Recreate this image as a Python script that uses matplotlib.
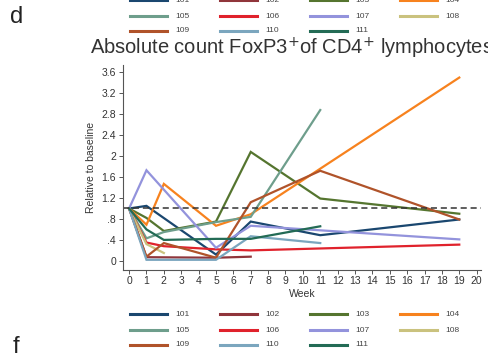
import matplotlib
matplotlib.use("Agg")
import matplotlib.pyplot as plt
from matplotlib.lines import Line2D

plt.rcParams['font.family'] = ['Liberation Sans', 'DejaVu Sans']

# patient series: weeks and value relative to baseline
patients = ['101', '102', '103', '104', '105', '106', '107', '108', '109', '110', '111']
colors = ['#1a476f', '#90353b', '#55752f', '#f7821e', '#6e9e8c', '#e0222c',
          '#9393dc', '#cac27e', '#b0532a', '#7ba6be', '#236b55']

weeks_101 = [0, 1, 5, 7, 11, 19]
vals_101 = [1.0, 1.05, 0.12, 0.75, 0.49, 0.79]
weeks_102 = [0, 1, 5, 7]
vals_102 = [1.0, 0.07, 0.06, 0.08]
weeks_103 = [0, 1, 2, 5, 7, 11, 19]
vals_103 = [1.0, 0.82, 0.57, 0.75, 2.08, 1.19, 0.9]
weeks_104 = [0, 1, 2, 5, 7, 19]
vals_104 = [1.0, 0.69, 1.47, 0.67, 0.89, 3.5]
weeks_105 = [0, 1, 2, 5, 7, 11]
vals_105 = [1.0, 0.43, 0.55, 0.74, 0.84, 2.88]
weeks_106 = [0, 1, 2, 5, 7, 19]
vals_106 = [1.0, 0.35, 0.28, 0.22, 0.2, 0.31]
weeks_107 = [0, 1, 5, 7, 19]
vals_107 = [1.0, 1.73, 0.25, 0.67, 0.41]
weeks_108 = [0, 1, 2]
vals_108 = [1.0, 0.32, 0.15]
weeks_109 = [0, 1, 2, 5, 7, 11, 19]
vals_109 = [1.0, 0.08, 0.34, 0.06, 1.12, 1.72, 0.79]
weeks_110 = [0, 1, 2, 5, 7, 11]
vals_110 = [1.0, 0.02, 0.02, 0.02, 0.47, 0.34]
weeks_111 = [0, 1, 2, 5, 7, 11]
vals_111 = [1.0, 0.6, 0.4, 0.42, 0.42, 0.66]

all_weeks = [weeks_101, weeks_102, weeks_103, weeks_104, weeks_105, weeks_106,
             weeks_107, weeks_108, weeks_109, weeks_110, weeks_111]
all_vals = [vals_101, vals_102, vals_103, vals_104, vals_105, vals_106,
            vals_107, vals_108, vals_109, vals_110, vals_111]

yticks = [0, 0.4, 0.8, 1.2, 1.6, 2.0, 2.4, 2.8, 3.2, 3.6]
ytick_labels = ['0', '.4', '.8', '1.2', '1.6', '2', '2.4', '2.8', '3.2', '3.6']
xticks = list(range(0, 21))

W, H = 488, 353
fig = plt.figure(figsize=(W / 100, H / 100), dpi=100)
ax = fig.add_axes([123 / W, 1 - 269.5 / H, (481 - 123) / W, (269.5 - 65) / H])

for w, v, c in zip(all_weeks, all_vals, colors):
    ax.plot(w, v, color=c, lw=1.6, solid_joinstyle='miter')

ax.axhline(1.0, color='#333333', lw=1.1, ls=(0, (4, 2.5)))

ax.set_xlim(-0.35, 20.25)
ax.set_ylim(-0.165, 3.74)
ax.set_yticks(yticks)
ax.set_yticklabels(ytick_labels)
ax.set_xticks(xticks)
for s in ['top', 'right']:
    ax.spines[s].set_visible(False)
for s in ['left', 'bottom']:
    ax.spines[s].set_color('#555555')
    ax.spines[s].set_linewidth(0.8)
ax.tick_params(axis='both', labelsize=7.5, length=3, width=0.7, colors='#555555',
               labelcolor='#333333', pad=2)
ax.set_xlabel('Week', fontsize=7.5, color='#333333', labelpad=2)
ax.set_ylabel('Relative to baseline', fontsize=7.5, color='#333333', labelpad=4)

# title and panel letters
fig.text(90 / W, 1 - 48 / H, 'Absolute count FoxP3$^{+}$of CD4$^{+}$ lymphocytes',
         fontsize=14.5, color='#333333', ha='left', va='center')
fig.text(10 / W, 1 - 17 / H, 'd', fontsize=17, color='#222222', ha='left', va='center')
fig.text(13 / W, 1 - 347 / H, 'f', fontsize=17, color='#222222', ha='left', va='center')

# legends (top one partly cut off, bottom one full)
col_x = [130, 220, 310, 400]
for rows_y in ([0, 16, 31], [314, 330, 345]):
    for i, (name, c) in enumerate(zip(patients, colors)):
        r, k = divmod(i, 4)
        x0 = col_x[k]
        y = 1 - rows_y[r] / H
        fig.add_artist(Line2D([x0 / W, (x0 + 37) / W], [y, y], color=c, lw=2.2,
                              transform=fig.transFigure))
        fig.text((x0 + 45) / W, y, name, fontsize=6, color='#444444',
                 ha='left', va='center')

fig.savefig('out.png', dpi=100)
